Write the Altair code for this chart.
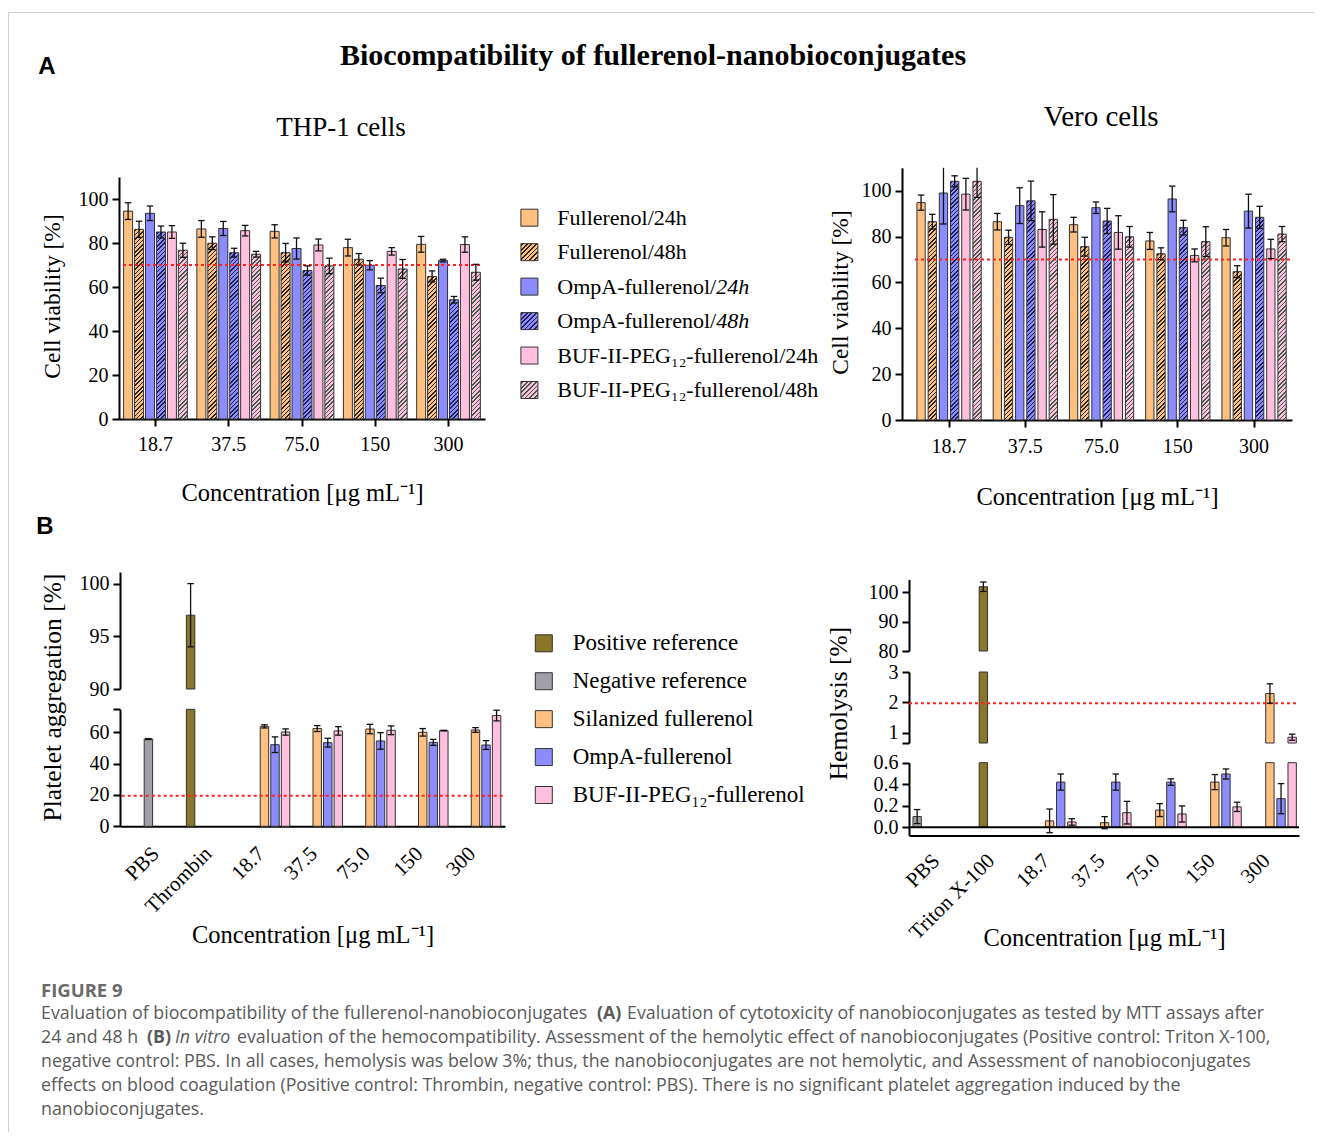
import altair as alt

# ---------------- values ----------------
conc = ["18.7", "37.5", "75.0", "150", "300"]
series_a = ["Fullerenol/24h", "Fullerenol/48h", "OmpA-fullerenol/24h", "OmpA-fullerenol/48h",
            "BUF-II-PEG₁₂-fullerenol/24h", "BUF-II-PEG₁₂-fullerenol/48h"]

# THP-1 cells, cell viability [%] (per series, across conc)
thp1_f24 = [94.5, 86.4, 85.3, 77.9, 79.4]
thp1_f48 = [86.2, 79.9, 75.6, 72.6, 64.8]
thp1_o24 = [93.5, 86.6, 77.5, 69.9, 72.0]
thp1_o48 = [85.0, 75.6, 67.5, 60.7, 54.2]
thp1_b24 = [85.0, 85.6, 79.1, 76.2, 79.3]
thp1_b48 = [76.7, 74.9, 69.6, 68.2, 66.7]
thp1_f24_err = [3.8, 3.8, 3.0, 3.8, 3.6]
thp1_f48_err = [3.7, 2.9, 4.2, 2.6, 2.5]
thp1_o24_err = [3.3, 3.2, 4.8, 2.1, 0.6]
thp1_o48_err = [2.7, 2.0, 2.1, 3.3, 1.5]
thp1_b24_err = [2.9, 2.4, 2.7, 1.7, 3.5]
thp1_b48_err = [3.2, 1.3, 3.5, 4.3, 3.6]

# Vero cells
vero_f24 = [94.8, 86.5, 85.2, 78.1, 79.5]
vero_f48 = [86.5, 79.7, 75.6, 72.5, 64.7]
vero_o24 = [99.0, 93.5, 92.6, 96.4, 91.1]
vero_o48 = [104.1, 95.6, 86.8, 83.9, 88.4]
vero_b24 = [98.5, 83.1, 81.8, 71.8, 74.6]
vero_b48 = [104.1, 87.5, 79.9, 77.8, 81.1]
vero_f24_err = [3.3, 3.6, 3.2, 3.7, 3.6]
vero_f48_err = [3.2, 3.1, 4.1, 2.6, 2.6]
vero_o24_err = [13.5, 7.8, 2.5, 5.6, 7.4]
vero_o48_err = [2.4, 8.6, 5.5, 3.2, 4.8]
vero_b24_err = [6.9, 7.7, 7.3, 2.8, 4.2]
vero_b48_err = [7.0, 10.8, 4.5, 6.5, 3.3]

series_b = ["Positive reference", "Negative reference", "Silanized fullerenol",
            "OmpA-fullerenol", "BUF-II-PEG₁₂-fullerenol"]

# Platelet aggregation [%]
plt_cats = ["PBS", "Thrombin"] + conc
plt_pbs, plt_pbs_err = 55.7, 0.3
plt_thr, plt_thr_err = 97.0, 3.0
plt_sil = [63.8, 62.4, 62.1, 60.0, 61.5]
plt_omp = [52.1, 53.4, 54.5, 53.6, 51.9]
plt_buf = [60.2, 60.9, 61.3, 61.1, 70.7]
plt_sil_err = [1.0, 1.9, 3.0, 2.4, 1.5]
plt_omp_err = [5.0, 2.8, 5.3, 1.9, 2.8]
plt_buf_err = [2.0, 2.7, 2.8, 0.2, 3.4]

# Hemolysis [%]
hem_cats = ["PBS", "Triton X-100"] + conc
hem_pbs, hem_pbs_err = 0.10, 0.065
hem_tri, hem_tri_err = 101.9, 1.6
hem_sil = [0.06, 0.043, 0.16, 0.42, 2.29]
hem_omp = [0.42, 0.42, 0.42, 0.495, 0.266]
hem_buf = [0.05, 0.136, 0.124, 0.19, 0.85]
hem_sil_err = [0.11, 0.056, 0.06, 0.07, 0.32]
hem_omp_err = [0.075, 0.075, 0.03, 0.047, 0.14]
hem_buf_err = [0.03, 0.105, 0.075, 0.043, 0.10]

# caption: (text, x, weight, style) segments per line
caption_segments = [
    [("Evaluation of biocompatibility of the fullerenol-nanobioconjugates", 33, "normal", "normal"),
     ("(A)", 589, "bold", "normal"),
     ("Evaluation of cytotoxicity of nanobioconjugates as tested by MTT assays after", 619, "normal", "normal")],
    [("24 and 48 h", 33, "normal", "normal"),
     ("(B)", 139, "bold", "normal"),
     ("In vitro", 167, "normal", "italic"),
     ("evaluation of the hemocompatibility. Assessment of the hemolytic effect of nanobioconjugates (Positive control: Triton X-100,", 229, "normal", "normal")],
    [("negative control: PBS. In all cases, hemolysis was below 3%; thus, the nanobioconjugates are not hemolytic, and Assessment of nanobioconjugates", 33, "normal", "normal")],
    [("effects on blood coagulation (Positive control: Thrombin, negative control: PBS). There is no significant platelet aggregation induced by the", 33, "normal", "normal")],
    [("nanobioconjugates.", 33, "normal", "normal")],
]

# ---------------- styles ----------------
W, H = 1306, 1120
SERIF = "Liberation Serif"
SANS = "Liberation Sans"
CAPF = "Open Sans"
ORANGE, BLUE, PINK = "#FFC080", "#8C8CFF", "#FFC0E0"
OLIVE, GRAY = "#8A7628", "#A39FA7"
HATCH = {ORANGE: "#222222", BLUE: "#1d1d52", PINK: "#3b5a48"}
EDGE, ERR, RED = "#333333", "#111111", "#ff2020"
bases_a = [ORANGE, ORANGE, BLUE, BLUE, PINK, PINK]
hatched_a = [False, True, False, True, False, True]
colors_b = [OLIVE, GRAY, ORANGE, BLUE, PINK]


def geom(n, rng, pi, po, align=0.5):
    step = (rng[1] - rng[0]) / max(1, n - pi + 2 * po)
    return step, step * (1 - pi)


def hatch(base, line, w, h, period=4.3, dark=1.5):
    w, h = max(w, 0.5), max(h, 0.5)
    f = w / (w * w + h * h)
    stops = [{"offset": 0, "color": base}]
    c = 1.2
    while c < w + h:
        t0 = min(c * f, 1.0)
        t1 = min((c + dark) * f, 1.0)
        stops += [{"offset": t0, "color": base}, {"offset": t0, "color": line},
                  {"offset": t1, "color": line}, {"offset": t1, "color": base}]
        c += period
    stops.append({"offset": 1, "color": base})
    return {"gradient": "linear", "x1": 0, "y1": 0, "x2": 1, "y2": h / w, "stops": stops}


def bscale(domain, rng, pi, po, align=0.5):
    return alt.Scale(type="band", domain=domain, range=list(rng), paddingInner=pi,
                     paddingOuter=po, align=align)


def lscale(dom, rng):
    return alt.Scale(type="linear", domain=list(dom), range=list(rng), clamp=True, nice=False, zero=False)


def one():
    return alt.Data(values=[{}])


def label(text, x, y, size, font=SERIF, weight="normal", color="black", align="center", style="normal"):
    return alt.Chart(one()).mark_text(text=text, font=font, fontSize=size, fontWeight=weight,
                                       color=color, align=align, baseline="middle",
                                       fontStyle=style).encode(x=alt.value(x), y=alt.value(y))


def red_line(yv, ys, span):
    return alt.Chart(one()).mark_rule(color=RED, strokeDash=[3, 3], strokeWidth=1.8).encode(
        x=alt.XDatum(0, type="quantitative", scale=alt.Scale(domain=[0, 1], range=list(span)), axis=None),
        x2=alt.X2Datum(1),
        y=alt.YDatum(yv, type="quantitative", scale=ys, axis=None))


def err_layers(rules, caps, xs, xos, ys):
    X = alt.X("cat:N", scale=xs, axis=None)
    XO = alt.XOffset("s:N", scale=xos)
    r = alt.Chart(alt.Data(values=rules)).mark_rule(color=ERR, strokeWidth=1.3).encode(
        x=X, xOffset=XO, y=alt.Y("lo:Q", scale=ys, axis=None), y2="hi:Q")
    c = alt.Chart(alt.Data(values=caps)).mark_point(shape="M-1,0L1,0", size=42, filled=False,
                                                     stroke=ERR, strokeWidth=1.3, opacity=1).encode(
        x=X, xOffset=XO, y=alt.Y("y:Q", scale=ys, axis=None))
    return [r, c]


XTITLE = "Concentration [μg mL⁻¹]"


# ---------------- panel A (grouped bars) ----------------
def grouped_panel(means, errs, xr, xp, xop, yr, xoff, yoff, ytx, yty, xty, span, lpad):
    ydom = [0, 110]
    step, bw = geom(len(conc), xr, *xp)
    sstep, sbw = geom(len(series_a), [0, bw], xop[0], xop[1])
    ppu = (yr[0] - yr[1]) / (ydom[1] - ydom[0])
    bars, rules, caps = [], [], []
    for si, s in enumerate(series_a):
        base = bases_a[si]
        for ci, c in enumerate(conc):
            v, e = means[si][ci], errs[si][ci]
            paint = hatch(base, HATCH[base], sbw, v * ppu) if hatched_a[si] else base
            bars.append({"cat": c, "s": s, "v": v, "paint": paint})
            rules.append({"cat": c, "s": s, "lo": v - e, "hi": v + e})
            for yv in (v - e, v + e):
                if yv <= ydom[1]:
                    caps.append({"cat": c, "s": s, "y": yv})
    xs = bscale(conc, xr, *xp)
    xos = alt.Scale(type="band", domain=series_a, paddingInner=xop[0], paddingOuter=xop[1])
    ys = lscale(ydom, yr)
    xaxis = alt.Axis(orient="bottom", offset=xoff, title=XTITLE, titleY=xty,
                     titleBaseline="middle", labelAngle=0, labelPadding=lpad, titleFontSize=24.5)
    yaxis = alt.Axis(orient="left", offset=yoff, values=[0, 20, 40, 60, 80, 100],
                     title="Cell viability [%]", titleX=ytx, titleY=yty, titleBaseline="middle",
                     titleFontSize=23.5)
    b = alt.Chart(alt.Data(values=bars)).mark_bar(stroke=EDGE, strokeWidth=1).encode(
        x=alt.X("cat:N", scale=xs, axis=xaxis),
        xOffset=alt.XOffset("s:N", scale=xos),
        y=alt.Y("v:Q", scale=ys, axis=yaxis),
        y2=alt.Y2Datum(0),
        fill=alt.Fill("paint:N", scale=None))
    return [b, red_line(70, ys, span)] + err_layers(rules, caps, xs, xos, ys)


thp1 = grouped_panel(
    [thp1_f24, thp1_f48, thp1_o24, thp1_o48, thp1_b24, thp1_b48],
    [thp1_f24_err, thp1_f48_err, thp1_o24_err, thp1_o48_err, thp1_b24_err, thp1_b48_err],
    xr=[111, 477], xp=(0.13, 0.063, 0.5), xop=(0.177, 0.0), yr=[407, 165],
    xoff=407 - H, yoff=-111, ytx=-67, yty=284, xty=74, span=[115, 474], lpad=8)

vero = grouped_panel(
    [vero_f24, vero_f48, vero_o24, vero_o48, vero_b24, vero_b48],
    [vero_f24_err, vero_f48_err, vero_o24_err, vero_o48_err, vero_b24_err, vero_b48_err],
    xr=[894, 1284], xp=(0.157, 0.136, 0.72), xop=(0.26, 0.0), yr=[408, 155.8],
    xoff=408 - H, yoff=-894, ytx=-62, yty=280, xty=77, span=[907, 1284], lpad=9)


# ---------------- panel B (broken axes) ----------------
INT_LABEL = "format(datum.value, 'd')"


def broken_panel(cats, sdom, recs, xr, xp, xop, segs, xoff, yoff, ytitle, ytx, yty, xty,
                 red, span, lpad, zero_seg=None):
    xs = bscale(cats, xr, *xp)
    xos = alt.Scale(type="band", domain=sdom, paddingInner=xop[0], paddingOuter=xop[1])
    layers = []
    for k, sg in enumerate(segs):
        lo_d, hi_d = sg["dom"]
        ys = lscale(sg["dom"], sg["rng"])
        bars = [dict(cat=r["cat"], s=r["s"], v=r["v"], paint=r["paint"]) for r in recs if r["v"] > lo_d]
        rules = [dict(cat=r["cat"], s=r["s"], lo=r["v"] - r["e"], hi=r["v"] + r["e"])
                 for r in recs if r["v"] + r["e"] > lo_d and r["v"] - r["e"] < hi_d]
        caps = []
        for r in recs:
            for yv in (r["v"] - r["e"], r["v"] + r["e"]):
                if lo_d <= yv <= hi_d:
                    caps.append(dict(cat=r["cat"], s=r["s"], y=yv))
        ax_kw = dict(orient="left", offset=yoff, values=sg["ticks"], tickCount=20, labelExpr=sg["expr"])
        if sg.get("title"):
            ax_kw.update(title=ytitle, titleX=ytx, titleY=yty, titleBaseline="middle", titleFontSize=25.5)
        else:
            ax_kw["title"] = None
        yaxis = alt.Axis(**ax_kw)
        if sg.get("xaxis"):
            xaxis = alt.Axis(orient="bottom", offset=xoff, title=XTITLE,
                             titleY=xty, titleBaseline="middle", labelAngle=-45, labelAlign="right",
                             labelBaseline="middle", ticks=False, tickSize=0, labelPadding=lpad,
                             labelOffset=-3, labelFontSize=21, titleFontSize=24.5)
        else:
            xaxis = None
        if bars:
            layers.append(alt.Chart(alt.Data(values=bars)).mark_bar(stroke=EDGE, strokeWidth=1).encode(
                x=alt.X("cat:N", scale=xs, axis=xaxis),
                xOffset=alt.XOffset("s:N", scale=xos),
                y=alt.Y("v:Q", scale=ys, axis=yaxis),
                y2=alt.Y2Datum(0),
                fill=alt.Fill("paint:N", scale=None)))
        if k == zero_seg:
            layers.append(alt.Chart(one()).mark_rule(color="black", strokeWidth=2).encode(
                x=alt.XDatum(0, type="quantitative", scale=alt.Scale(domain=[0, 1], range=list(span)), axis=None),
                x2=alt.X2Datum(1),
                y=alt.YDatum(0, type="quantitative", scale=ys, axis=None)))
        if k == red[1]:
            layers.append(red_line(red[0], ys, span))
        layers += err_layers(rules, caps, xs, xos, ys)
    return layers


def recs_b(cats, ctrl_neg, ctrl_pos, sil, omp, buf, sil_e, omp_e, buf_e):
    recs = [dict(cat=cats[0], s=series_b[1], v=ctrl_neg[0], e=ctrl_neg[1], paint=GRAY),
            dict(cat=cats[1], s=series_b[0], v=ctrl_pos[0], e=ctrl_pos[1], paint=OLIVE)]
    for i, c in enumerate(conc):
        recs.append(dict(cat=c, s=series_b[2], v=sil[i], e=sil_e[i], paint=ORANGE))
        recs.append(dict(cat=c, s=series_b[3], v=omp[i], e=omp_e[i], paint=BLUE))
        recs.append(dict(cat=c, s=series_b[4], v=buf[i], e=buf_e[i], paint=PINK))
    return recs


platelet = broken_panel(
    plt_cats, series_b,
    recs_b(plt_cats, (plt_pbs, plt_pbs_err), (plt_thr, plt_thr_err), plt_sil, plt_omp, plt_buf,
           plt_sil_err, plt_omp_err, plt_buf_err),
    xr=[112, 497], xp=(0.0, 0.149, 0.8), xop=(0.2, 0.1),
    segs=[dict(dom=[90, 101.1], rng=[677, 560], ticks=[90, 95, 100], expr=INT_LABEL),
          dict(dom=[0, 74.7], rng=[814.3, 697.3], ticks=[0, 20, 40, 60, 74.7],
               expr="datum.value > 70 ? '' : " + INT_LABEL, title=True, xaxis=True)],
    xoff=814.3 - H, yoff=-112, ytitle="Platelet aggregation [%]", ytx=-68, yty=685, xty=108.7,
    red=(19.5, 1), span=[113.7, 497], lpad=24)

hemo = broken_panel(
    hem_cats, [series_b[1], series_b[0]] + series_b[2:],
    recs_b(hem_cats, (hem_pbs, hem_pbs_err), (hem_tri, hem_tri_err), hem_sil, hem_omp, hem_buf,
           hem_sil_err, hem_omp_err, hem_buf_err),
    xr=[901, 1291], xp=(0.0, 0.04, 0.65), xop=(0.25, 0.1),
    segs=[dict(dom=[80, 104.4], rng=[639, 567.4], ticks=[80, 90, 100], expr=INT_LABEL),
          dict(dom=[0.66, 3], rng=[731, 660], ticks=[0.66, 1, 2, 3],
               expr="datum.value < 0.9 ? '' : " + INT_LABEL),
          dict(dom=[-0.075, 0.6], rng=[823.4, 750.7], ticks=[0, 0.2, 0.4, 0.6],
               expr="format(datum.value, '.1f')", title=True, xaxis=True)],
    xoff=823.4 - H, yoff=-901, ytitle="Hemolysis [%]", ytx=-71, yty=691, xty=102.6,
    red=(1.97, 1), span=[901, 1291], lpad=22, zero_seg=2)


# ---------------- legends ----------------
def legend(names, texts, paints, sx, tx, yr, size, tails=None, tail_dx=0):
    ys = alt.Scale(type="point", domain=names, range=list(yr), padding=0)
    recs = [{"s": n, "paint": p, "t": t} for n, t, p in zip(names, texts, paints)]
    sw = alt.Chart(alt.Data(values=recs)).mark_point(shape="square", size=289, filled=True,
                                                      stroke=EDGE, strokeWidth=1, opacity=1).encode(
        x=alt.value(sx), y=alt.Y("s:N", scale=ys, axis=None), fill=alt.Fill("paint:N", scale=None))
    tx_layer = alt.Chart(alt.Data(values=recs)).mark_text(align="left", baseline="middle", font=SERIF,
                                                           fontSize=size, color="black").encode(
        x=alt.value(tx), y=alt.Y("s:N", scale=ys, axis=None), text="t:N")
    out = [sw, tx_layer]
    if tails:
        trecs = [{"s": n, "t": t} for n, t in tails]
        out.append(alt.Chart(alt.Data(values=trecs)).mark_text(
            align="left", baseline="middle", font=SERIF, fontSize=size, fontStyle="italic",
            color="black", dx=tail_dx).encode(
            x=alt.value(tx), y=alt.Y("s:N", scale=ys, axis=None), text="t:N"))
    return out


paints_a = [hatch(b, HATCH[b], 17, 17, period=4.6, dark=1.8) if h else b for b, h in zip(bases_a, hatched_a)]
texts_a = ["Fullerenol/24h", "Fullerenol/48h", "OmpA-fullerenol/", "OmpA-fullerenol/",
           "BUF-II-PEG₁₂-fullerenol/24h", "BUF-II-PEG₁₂-fullerenol/48h"]
legA = legend(series_a, texts_a, paints_a, 521.4, 549.3, [205.7, 378], 22,
              tails=[(series_a[2], "24h"), (series_a[3], "48h")], tail_dx=159)
legB = legend(series_b, series_b, colors_b, 535.8, 564.7, [631.3, 783], 23)

# ---------------- frame, titles, caption ----------------
fr_ax = dict(domain=True, domainColor="#cfcfcf", domainWidth=1, ticks=False, labels=False, title=None, grid=False)
frame1 = alt.Chart(one()).mark_point(opacity=0).encode(
    x=alt.XDatum(0.5, type="quantitative", scale=alt.Scale(domain=[0, 1], range=[0, W]),
                 axis=alt.Axis(orient="top", **fr_ax)),
    y=alt.YDatum(0.5, type="quantitative", scale=alt.Scale(domain=[0, 1], range=[0, H]),
                 axis=alt.Axis(orient="left", **fr_ax)))
frame2 = alt.Chart(one()).mark_point(opacity=0).encode(
    x=alt.XDatum(0.5, type="quantitative", scale=alt.Scale(domain=[0, 1], range=[0, W]), axis=None),
    y=alt.YDatum(0.5, type="quantitative", scale=alt.Scale(domain=[0, 1], range=[0, H]),
                 axis=alt.Axis(orient="right", **fr_ax)))

texts = [
    label("A", 39, 55, 24, font=SANS, weight="bold"),
    label("Biocompatibility of fullerenol-nanobioconjugates", 645, 44, 30, weight="bold"),
    label("THP-1 cells", 333, 116, 27),
    label("Vero cells", 1093, 105, 29),
    label("B", 37, 515, 24, font=SANS, weight="bold"),
    label("FIGURE 9", 33, 979, 18.5, font=CAPF, weight="bold", color="#6b6b6b", align="left"),
]
for i, segs in enumerate(caption_segments):
    for (txt, x, wt, st) in segs:
        texts.append(label(txt, x, 1002 + 24 * i, 17.8, font=CAPF, weight=wt, style=st,
                           color="#5a5a5a", align="left"))

layers = [frame1, frame2] + thp1 + vero + platelet + hemo + legA + legB + texts

chart = alt.layer(*layers).properties(
    width=W, height=H, padding={"left": 0, "top": 4, "right": 0, "bottom": 0}
).resolve_scale(x="independent", y="independent", xOffset="independent").resolve_axis(
    x="independent", y="independent"
).configure_view(stroke=None).configure_axis(
    labelFont=SERIF, titleFont=SERIF, labelFontSize=20, titleFontSize=23, labelColor="black",
    titleColor="black", titleFontWeight="normal", domainColor="black", tickColor="black",
    domainWidth=2, tickWidth=2, tickSize=7, grid=False, labelFlush=False, labelOverlap=False,
    labelPadding=4
)

chart.save("out.html", embed_options={"renderer": "svg", "actions": False})
